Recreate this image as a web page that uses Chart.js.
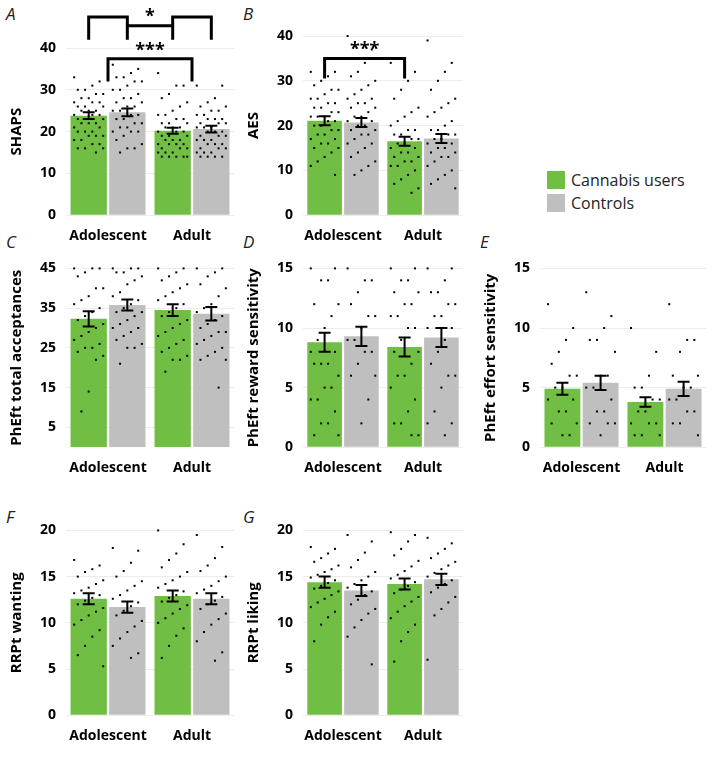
<!DOCTYPE html>
<html><head><meta charset="utf-8">
<script src="https://cdn.jsdelivr.net/npm/chart.js@4"></script>
<style>
body{margin:0;background:#fff;width:712px;height:766px;position:relative;overflow:hidden;font-family:"Open Sans",sans-serif}
.p{position:absolute}
.lab{position:absolute;font-style:italic;font-size:17px;color:#222}
.leg{position:absolute;left:547px;top:168px;font-size:16px;color:#222}
.leg div{display:flex;align-items:center;height:23px}
.leg span{display:inline-block;width:18px;height:18px;margin-right:6px}
</style></head><body>
<div class="lab" style="left:6px;top:2px">A</div>
<div class="lab" style="left:243px;top:2px">B</div>
<div class="lab" style="left:6px;top:230px">C</div>
<div class="lab" style="left:243px;top:230px">D</div>
<div class="lab" style="left:480px;top:230px">E</div>
<div class="lab" style="left:6px;top:505px">F</div>
<div class="lab" style="left:243px;top:505px">G</div>
<div class="leg"><div><span style="background:#70bf44"></span>Cannabis users</div><div><span style="background:#bfbfbf"></span>Controls</div></div>
<canvas id="A" class="p" style="left:0;top:0" width="240" height="248"></canvas>
<canvas id="B" class="p" style="left:237px;top:0" width="232" height="248"></canvas>
<canvas id="C" class="p" style="left:0;top:250px" width="240" height="230"></canvas>
<canvas id="D" class="p" style="left:237px;top:250px" width="232" height="230"></canvas>
<canvas id="E" class="p" style="left:474px;top:250px" width="238" height="230"></canvas>
<canvas id="F" class="p" style="left:0;top:512px" width="240" height="236"></canvas>
<canvas id="G" class="p" style="left:237px;top:512px" width="232" height="236"></canvas>
<script>
const categories=["Adolescent","Adult"];
const seriesNames=["Cannabis users","Controls"];
const colors=["#70bf44","#bfbfbf"];
const meanA=[[23.8,20.2],[24.6,20.6]], semA=[[0.8,0.7],[0.9,0.8]];
const meanB=[[21.1,16.5],[20.7,17.1]], semB=[[1.0,1.0],[1.0,1.0]];
const meanC=[[32.3,34.5],[35.8,33.6]], semC=[[1.9,1.5],[1.4,1.7]];
const meanD=[[8.8,8.4],[9.3,9.2]], semD=[[0.8,0.8],[0.8,0.8]];
const meanE=[[4.9,3.8],[5.4,4.9]], semE=[[0.5,0.4],[0.6,0.6]];
const meanF=[[12.6,12.9],[11.7,12.6]], semF=[[0.6,0.6],[0.6,0.6]];
const meanG=[[14.4,14.2],[13.5,14.7]], semG=[[0.6,0.6],[0.6,0.6]];
const dotsA=[[33,32,31,30,30,29,29,28,28,27,27,27,26,26,26,25,25,25,24,24,24,23,23,23,22,22,22,21,21,20,20,20,19,19,19,18,18,17,17,16,16,16,15,43],
 [36,35,34,33,33,32,32,31,30,30,29,28,28,27,27,26,26,25,25,24,24,23,23,22,22,21,21,20,20,20,19,18,17,16,16,15],
 [34,31,31,29,28,27,26,25,24,24,23,23,22,22,22,21,21,21,20,20,20,19,19,19,18,18,18,17,17,17,17,16,16,16,15,15,15,14,14,14,14,14],
 [31,31,28,27,26,26,25,25,24,24,23,23,23,22,22,22,21,21,21,20,20,20,19,19,19,18,18,18,17,17,17,16,16,16,15,15,15,14,14,14,14]];
const dotsB=[[32,32,31,30,29,28,28,27,26,26,25,25,24,24,23,23,22,22,22,21,21,20,20,19,19,18,18,17,17,16,16,15,15,14,13,12,11,9],
 [40,37,34,32,31,30,29,28,27,26,26,25,25,24,24,23,22,22,21,21,20,20,19,19,18,18,17,16,16,15,14,13,12,11,10,9],
 [34,32,30,28,26,24,23,22,21,20,19,19,18,18,17,17,16,16,15,15,14,14,13,13,12,12,11,11,10,9,8,7,6,5],
 [39,34,32,30,28,26,25,24,23,22,21,20,19,19,18,18,17,17,16,16,15,15,14,14,13,13,12,11,10,9,8,7,6]];
const dotsC=[[45,45,45,44,43,40,40,38,37,36,35,34,33,32,31,30,29,28,27,26,25,25,24,23,22,14,9],
 [45,45,45,44,44,43,42,41,39,38,37,36,35,34,34,33,32,31,30,30,29,28,27,26,25,25,21],
 [45,45,44,43,42,41,40,39,38,37,36,35,34,33,32,31,30,29,28,27,26,25,24,23,22,22,19],
 [45,45,44,43,41,40,38,36,35,34,33,32,31,30,29,29,28,27,26,25,24,23,22,22,15]];
const dotsD=[[15,15,14,14,12,12,11,10,9,8,8,7,7,7,6,5,5,4,4,3,2,2,1,1],
 [15,14,14,13,12,11,11,10,9,9,8,8,7,6,6,4,2],
 [15,15,14,14,13,13,12,12,11,11,10,10,9,8,8,7,6,6,5,4,3,2,2,1,1],
 [15,15,14,13,13,12,12,11,11,10,10,9,8,7,6,6,5,3,2,2,1]];
const dotsE=[[12,10,9,8,7,6,6,5,5,4,4,3,3,2,2,1,1],
 [13,11,10,9,9,8,6,6,5,5,4,3,3,2,2,2,1],
 [10,8,6,5,5,4,4,3,3,2,2,2,1,1,1],
 [12,9,9,8,6,6,5,5,4,4,3,3,2,2,1]];
const dotsF=[[16.8,16.2,15.8,15.5,15.0,14.6,14.2,13.8,13.5,13.2,13.0,12.7,12.4,12.0,11.6,11.2,10.8,10.3,9.8,9.2,8.5,7.5,6.5,5.3],
 [18.1,17.8,16.5,15.6,15.0,14.5,14.0,13.5,13.0,12.6,12.2,11.8,11.3,10.8,10.2,9.6,9.0,8.3,7.5,6.7,6.2],
 [20.0,18.5,17.5,16.8,16.0,15.5,15.0,14.6,14.2,13.8,13.4,13.0,12.7,12.3,11.9,11.5,11.0,10.5,10.0,9.4,8.6,7.5,6.2],
 [19.5,18.2,17.0,16.2,15.6,15.0,14.5,14.0,13.6,13.2,12.8,12.4,12.0,11.5,11.0,10.4,9.8,9.0,8.0,6.8,5.9]];
const dotsG=[[18.2,18.0,17.5,17.0,16.6,16.2,15.8,15.5,15.2,14.9,14.6,14.3,14.0,13.7,13.4,13.0,12.6,12.2,11.7,11.2,10.6,9.8,8.0],
 [19.5,18.8,17.6,16.8,16.0,15.5,15.0,14.6,14.2,13.8,13.4,13.0,12.5,12.0,11.5,11.0,10.3,9.5,8.5,5.5],
 [19.8,19.5,18.8,18.0,17.3,16.7,16.1,15.6,15.2,14.8,14.4,14.0,13.6,13.2,12.8,12.3,11.8,11.2,10.5,9.8,9.0,8.0,5.8],
 [19.2,18.6,18.0,17.5,17.0,16.6,16.2,15.8,15.4,15.0,14.6,14.2,13.8,13.3,12.8,12.2,11.5,10.8,6.0]];

const tickFont={family:"Open Sans",size:14,weight:"bold"};
const extras={
 id:"extras",
 afterDatasetsDraw(ch){
  const c=ch.ctx, y=ch.scales.y, xs=ch.scales.x, cfg=ch.config.options.plugins.extras;
  c.save();
  c.fillStyle="#000";
  for(let d=0;d<2;d++){
   ch.getDatasetMeta(d).data.forEach((bar,g)=>{
    const pts=cfg.dots[g*2+d]; const w=bar.width*0.8;
    pts.forEach((v,i)=>{
     const off=((i*7)%9/8-0.5)*w;
     c.fillRect(bar.x+off-1,y.getPixelForValue(v)-1,2,2);
    });
   });
  }
  c.strokeStyle="#000";c.lineWidth=2;
  for(let d=0;d<2;d++){
   ch.getDatasetMeta(d).data.forEach((bar,g)=>{
    const m=cfg.mean[d][g], s=cfg.sem[d][g];
    const t=y.getPixelForValue(m+s), b=y.getPixelForValue(m-s), x=bar.x;
    c.beginPath();c.moveTo(x,t);c.lineTo(x,b);
    c.moveTo(x-6,t);c.lineTo(x+6,t);c.moveTo(x-6,b);c.lineTo(x+6,b);c.stroke();
   });
  }
  c.lineWidth=3;c.fillStyle="#000";c.font="bold 18px 'Open Sans'";c.textAlign="center";
  const bx=(d,g)=>ch.getDatasetMeta(d).data[g].x;
  (cfg.brackets||[]).forEach(br=>{
   const top=y.getPixelForValue(br.top), leg=y.getPixelForValue(br.leg);
   if(br.type==="simple"||br.type==="group"){
    const x1=br.type==="group"?xs.getPixelForValue(0):bx(br.a[0],br.a[1]);
    const x2=br.type==="group"?xs.getPixelForValue(1):bx(br.b[0],br.b[1]);
    c.beginPath();c.moveTo(x1,leg);c.lineTo(x1,top);c.lineTo(x2,top);c.lineTo(x2,leg);c.stroke();
    c.fillText(br.text,(x1+x2)/2,top-3);
   } else {
    const l1=bx(0,0),l2=bx(1,0),r1=bx(0,1),r2=bx(1,1), mid=y.getPixelForValue(br.mid);
    c.beginPath();c.moveTo(l1,leg);c.lineTo(l1,top);c.lineTo(l2,top);c.lineTo(l2,leg);c.stroke();
    c.beginPath();c.moveTo(r1,leg);c.lineTo(r1,top);c.lineTo(r2,top);c.lineTo(r2,leg);c.stroke();
    c.beginPath();c.moveTo(l2,mid);c.lineTo(r1,mid);c.stroke();
    c.fillText(br.text,(l2+r1)/2,mid-4);
   }
  });
  c.restore();
 }
};
function make(id,title,mean,sem,dots,min,max,ticks,padTop,brackets){
 new Chart(document.getElementById(id),{
  type:"bar",
  data:{labels:categories,datasets:seriesNames.map((n,i)=>({label:n,data:mean[i],backgroundColor:colors[i]}))},
  options:{responsive:false,animation:false,
   layout:{padding:{top:padTop,right:6,left:4,bottom:0}},
   datasets:{bar:{categoryPercentage:0.92,barPercentage:0.94}},
   plugins:{legend:{display:false},tooltip:{enabled:false},extras:{mean,sem,dots,brackets}},
   scales:{
    x:{grid:{display:false},border:{display:false},ticks:{color:"#000",font:tickFont,padding:4,maxRotation:0,minRotation:0,autoSkip:false}},
    y:{min,max,border:{display:false},grid:{color:"#ececec",drawTicks:false},
     afterBuildTicks(s){s.ticks=ticks.map(v=>({value:v}));},
     ticks:{color:"#000",font:tickFont,padding:10},
     title:{display:true,text:title,color:"#000",font:{family:"Open Sans",size:15,weight:"bold"},padding:{bottom:4}}}
   }},
  plugins:[extras]
 });
}
make("A","SHAPS",meanA,semA,dotsA,0,40,[0,10,20,30,40],48,
 [{type:"double",top:47.4,leg:42,mid:45.3,text:"*"},{type:"group",top:37.4,leg:32,text:"***"}]);
make("B","AES",meanB,semB,dotsB,0,40,[0,10,20,30,40],36,
 [{type:"simple",a:[0,0],b:[0,1],top:35,leg:30.5,text:"***"}]);
make("C","PhEft total acceptances",meanC,semC,dotsC,0,45,[5,15,25,35,45],14,[]);
make("D","PhEft reward sensitivity",meanD,semD,dotsD,0,15,[0,5,10,15],14,[]);
make("E","PhEft effort sensitivity",meanE,semE,dotsE,0,15,[0,5,10,15],14,[]);
make("F","RRPt wanting",meanF,semF,dotsF,0,20,[0,5,10,15,20],14,[]);
make("G","RRPt liking",meanG,semG,dotsG,0,20,[0,5,10,15,20],14,[]);
</script></body></html>
